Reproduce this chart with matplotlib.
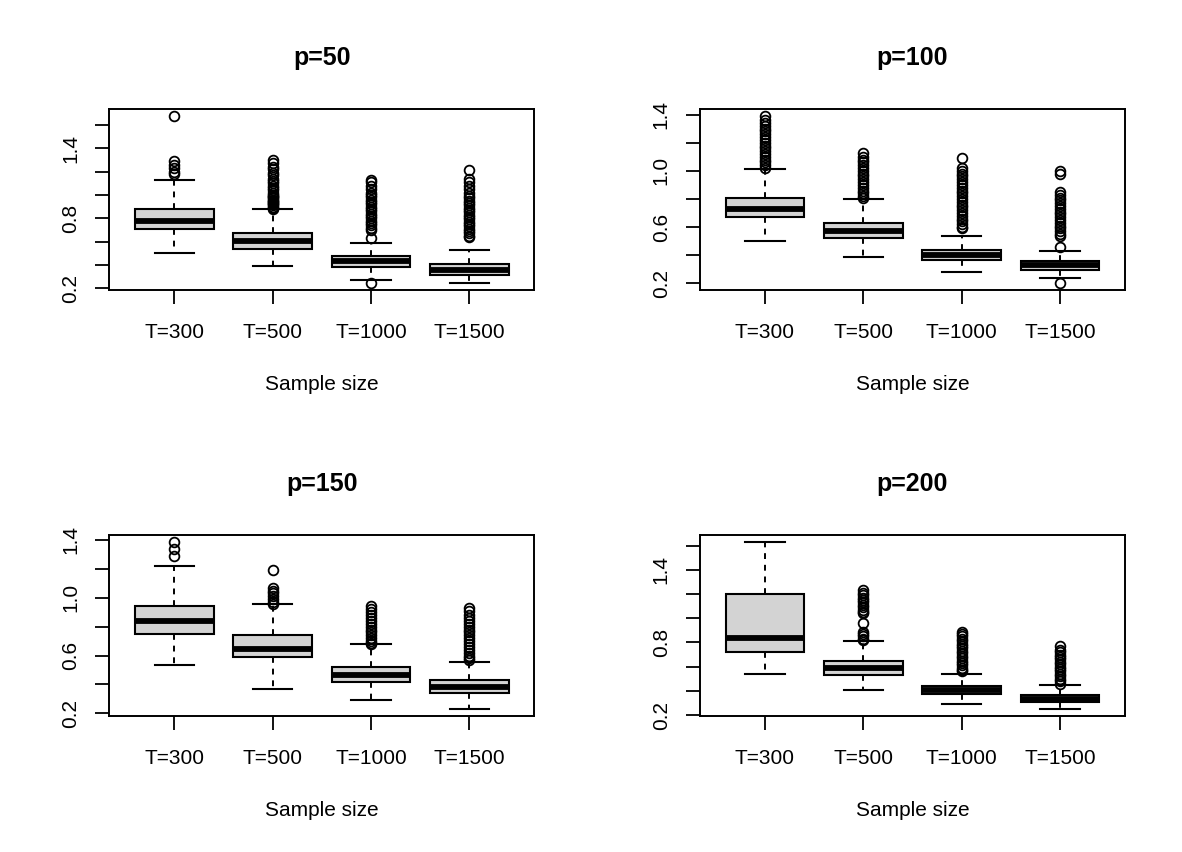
import numpy as np
import matplotlib
matplotlib.use("Agg")
import matplotlib.pyplot as plt

plt.rcParams['font.family'] = ['Liberation Sans', 'DejaVu Sans']

titles = ["p=50", "p=100", "p=150", "p=200"]
sizes = ["T=300", "T=500", "T=1000", "T=1500"]

# box stats per panel (T=300, T=500, T=1000, T=1500)
whislo = [[0.50, 0.394, 0.269, 0.243],
          [0.50, 0.389, 0.282, 0.238],
          [0.534, 0.370, 0.292, 0.230],
          [0.539, 0.404, 0.293, 0.250]]
q1 = [[0.706, 0.539, 0.385, 0.317],
      [0.672, 0.521, 0.363, 0.297],
      [0.749, 0.588, 0.419, 0.338],
      [0.723, 0.533, 0.374, 0.305]]
med = [[0.779, 0.605, 0.434, 0.357],
       [0.731, 0.571, 0.400, 0.330],
       [0.841, 0.647, 0.465, 0.380],
       [0.839, 0.591, 0.407, 0.332]]
q3 = [[0.877, 0.676, 0.479, 0.408],
      [0.809, 0.632, 0.436, 0.360],
      [0.945, 0.742, 0.523, 0.428],
      [1.198, 0.646, 0.442, 0.363]]
whishi = [[1.128, 0.877, 0.591, 0.528],
          [1.010, 0.797, 0.537, 0.429],
          [1.218, 0.955, 0.680, 0.557],
          [1.632, 0.814, 0.541, 0.448]]

# outliers
p50_out = [
    [1.676, 1.293, 1.257, 1.228, 1.20, 1.18],
    [1.30, 1.27, 1.24, 1.22, 1.19, 1.17, 1.14, 1.12, 1.10, 1.08, 1.06, 1.04, 1.02,
     1.00, 0.99, 0.98, 0.97, 0.96, 0.95, 0.94, 0.93, 0.92, 0.91, 0.90, 0.89, 0.88],
    [1.13, 1.11, 1.08, 1.05, 1.02, 1.00, 0.98, 0.96, 0.94, 0.92, 0.90, 0.88, 0.86,
     0.84, 0.82, 0.80, 0.78, 0.76, 0.74, 0.72, 0.70, 0.63, 0.243],
    [1.21, 1.14, 1.11, 1.08, 1.05, 1.02, 0.99, 0.97, 0.95, 0.93, 0.91, 0.89, 0.87,
     0.85, 0.83, 0.81, 0.79, 0.77, 0.75, 0.73, 0.71, 0.69, 0.67, 0.65, 0.64],
]
p100_out = [
    [1.39, 1.36, 1.34, 1.32, 1.30, 1.28, 1.26, 1.24, 1.22, 1.20, 1.18, 1.16, 1.14,
     1.12, 1.10, 1.08, 1.06, 1.04, 1.02],
    [1.13, 1.10, 1.08, 1.06, 1.04, 1.02, 1.00, 0.98, 0.96, 0.94, 0.92, 0.90, 0.88,
     0.86, 0.84, 0.82, 0.81],
    [1.09, 1.02, 1.00, 0.98, 0.96, 0.94, 0.92, 0.90, 0.88, 0.86, 0.84, 0.82, 0.80,
     0.78, 0.76, 0.74, 0.72, 0.70, 0.68, 0.66, 0.64, 0.62, 0.60, 0.59],
    [1.00, 0.975, 0.85, 0.83, 0.81, 0.79, 0.77, 0.75, 0.73, 0.71, 0.69, 0.67, 0.65,
     0.63, 0.61, 0.59, 0.57, 0.55, 0.54, 0.457, 0.20],
]
p150_out = [
    [1.388, 1.338, 1.289],
    [1.19, 1.07, 1.05, 1.03, 1.01, 0.99, 0.97, 0.96],
    [0.94, 0.92, 0.90, 0.88, 0.86, 0.84, 0.82, 0.80, 0.78, 0.76, 0.74, 0.72, 0.70,
     0.69, 0.68],
    [0.93, 0.91, 0.88, 0.86, 0.84, 0.82, 0.80, 0.78, 0.76, 0.74, 0.72, 0.70, 0.68,
     0.66, 0.64, 0.62, 0.60, 0.58, 0.57],
]
p200_out = [
    [],
    [1.23, 1.21, 1.19, 1.17, 1.15, 1.13, 1.11, 1.09, 1.07, 1.05, 1.04, 0.96, 0.89,
     0.87, 0.85, 0.83, 0.82],
    [0.89, 0.87, 0.85, 0.83, 0.81, 0.79, 0.77, 0.75, 0.73, 0.71, 0.69, 0.67, 0.65,
     0.63, 0.61, 0.59, 0.57, 0.56],
    [0.77, 0.74, 0.72, 0.70, 0.68, 0.66, 0.64, 0.62, 0.60, 0.58, 0.56, 0.54, 0.52,
     0.50, 0.48, 0.46],
]
outliers = [p50_out, p100_out, p150_out, p200_out]

yticks = [[0.2, 0.4, 0.6, 0.8, 1.0, 1.2, 1.4, 1.6],
          [0.2, 0.4, 0.6, 0.8, 1.0, 1.2, 1.4],
          [0.2, 0.4, 0.6, 0.8, 1.0, 1.2, 1.4],
          [0.2, 0.4, 0.6, 0.8, 1.0, 1.2, 1.4, 1.6]]
ylabels = [["0.2", "", "", "0.8", "", "", "1.4", ""],
           ["0.2", "", "0.6", "", "1.0", "", "1.4"],
           ["0.2", "", "0.6", "", "1.0", "", "1.4"],
           ["0.2", "", "", "0.8", "", "", "1.4", ""]]

fig = plt.figure(figsize=(11.82, 8.52), dpi=100)
W, H = 1182, 852
# left, top, right, bottom in pixels
boxes_px = [(109.3, 109.3, 534.3, 290.0), (700.0, 109.3, 1125.0, 290.0),
            (109.3, 535.0, 534.3, 715.7), (700.0, 535.0, 1125.0, 715.7)]

for i in range(4):
    l, t, r, b = boxes_px[i]
    ax = fig.add_axes([l / W, (H - b) / H, (r - l) / W, (b - t) / H])
    stats = []
    for j in range(4):
        stats.append(dict(med=med[i][j], q1=q1[i][j], q3=q3[i][j],
                          whislo=whislo[i][j], whishi=whishi[i][j],
                          fliers=outliers[i][j]))
    ax.bxp(stats, positions=[1, 2, 3, 4], widths=0.8, patch_artist=True,
           boxprops=dict(facecolor='#d3d3d3', edgecolor='black', linewidth=1.5),
           medianprops=dict(color='black', linewidth=4.2, solid_capstyle='butt'),
           whiskerprops=dict(color='black', linewidth=1.4, linestyle=(0, (3.0, 3.0))),
           capprops=dict(color='black', linewidth=1.5),
           flierprops=dict(marker='o', markerfacecolor='none', markeredgecolor='black',
                           markersize=7, markeredgewidth=1.3))

    allv = [v for j in range(4) for v in outliers[i][j]] + whislo[i] + whishi[i]
    lo, hi = min(allv), max(allv)
    ext = 0.04 * (hi - lo)
    ax.set_ylim(lo - ext, hi + ext)
    ax.set_xlim(0.34, 4.66)

    ax.set_xticks([1, 2, 3, 4])
    ax.set_xticklabels(sizes)
    ax.set_yticks(yticks[i])
    ax.set_yticklabels(ylabels[i])
    ax.tick_params(axis='x', length=10, width=1.3, pad=14, labelsize=15)
    ax.tick_params(axis='y', length=10, width=1.3, pad=11, labelsize=15,
                   labelrotation=90)
    for lab in ax.get_yticklabels():
        lab.set_va('center')
    for s in ax.spines.values():
        s.set_linewidth(1.4)

    ax.set_title(titles[i], fontsize=18, fontweight='bold', pad=32)
    ax.set_xlabel("Sample size", fontsize=15, labelpad=23.5)

fig.savefig("out.png", dpi=100)
